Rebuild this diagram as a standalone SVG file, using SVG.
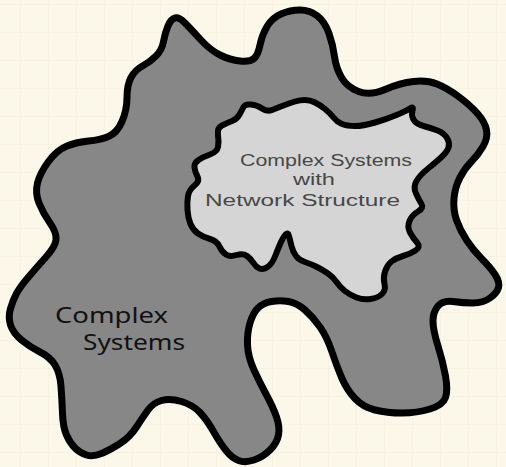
<svg xmlns="http://www.w3.org/2000/svg" width="506" height="467" viewBox="0 0 506 467">
<defs>
<pattern id="grid" patternUnits="userSpaceOnUse" x="20" y="4" width="28" height="28">
<rect width="28" height="28" fill="#fcf8e9"/>
<path d="M0,0 V28 M0,0 H28" stroke="#f2ecd9" stroke-width="1" fill="none"/>
</pattern>
</defs>
<style>
.blob{stroke:#000;stroke-linejoin:round}
.outer{fill:#878787;stroke-width:7}
.inner{fill:#d5d5d5;stroke-width:6}
.t{font-family:"Noto Sans","DejaVu Sans",sans-serif}
.ti{fill:#474747;font-size:16px;font-family:"Liberation Sans",Arial,sans-serif}
.to{fill:#111;font-size:22px}
</style>
<rect width="506" height="467" fill="url(#grid)"/>
<g id="connectors"/>
<g id="complex-systems">
<path class="blob outer" d="M67,146 Q77,142 88.5,141 Q100,140 108.5,136.5 Q117,133 122,121.5 Q127,110 127,97.5 Q127,85 131,77.5 Q135,70 142.5,66 Q150,62 156,56 Q162,50 163.5,41.5 Q165,33 168,26 Q171,19 175,18 Q179,17 184.5,22.5 Q190,28 200,39 Q210,50 220,55 Q230,60 240,61 Q250,62 254,58.5 Q258,55 260,45 Q262,35 267,26.5 Q272,18 281,14 Q290,10 300,10 Q310,10 317.5,16 Q325,22 329,33.5 Q333,45 334.5,56.5 Q336,68 341.5,77.5 Q347,87 358.5,91.5 Q370,96 385,89.5 Q400,83 413.5,81.5 Q427,80 437,84 Q447,88 458.5,96.5 Q470,105 477.5,113.5 Q485,122 486.5,130 Q488,138 483,146.5 Q478,155 471.5,161.5 Q465,168 460,177.5 Q455,187 454,198.5 Q453,210 456.5,220 Q460,230 466.5,240 Q473,250 481.5,258.5 Q490,267 495,274.5 Q500,282 498.5,287.5 Q497,293 490,298 Q483,303 473,303 Q463,303 453,301.5 Q443,300 438,306 Q433,312 433,321 Q433,330 438,346 Q443,362 445.5,376 Q448,390 445.5,397.5 Q443,405 430,409 Q417,413 402,413 Q387,413 375,410 Q363,407 355,398.5 Q347,390 342,378.5 Q337,367 332,352 Q327,337 320,327 Q313,317 305,310 Q297,303 288.5,301.5 Q280,300 271.5,301.5 Q263,303 258,308 Q253,313 250,323 Q247,333 247.5,345 Q248,357 254,370 Q260,383 266.5,395 Q273,407 276.5,417 Q280,427 278.5,435 Q277,443 270,450 Q263,457 254,460 Q245,463 238.5,460.5 Q232,458 226,450.5 Q220,443 213.5,431.5 Q207,420 200,412.5 Q193,405 181.5,401.5 Q170,398 161.5,400.5 Q153,403 148,410 Q143,417 136.5,427 Q130,437 120,443.5 Q110,450 101.5,453.5 Q93,457 86.5,455 Q80,453 75,448 Q70,443 66.5,435 Q63,427 62.5,413.5 Q62,400 61,386.5 Q60,373 55,365 Q50,357 40,352 Q30,347 21.5,340 Q13,333 10.5,325 Q8,317 10.5,308.5 Q13,300 16.5,293.5 Q20,287 28.5,277 Q37,267 46,257 Q55,247 56,240 Q57,233 50,223 Q43,213 39,203 Q35,193 37.5,183 Q40,173 48.5,161.5 Q57,150 67,146 Z"/>
<text class="t to" x="55" y="323" textLength="113" lengthAdjust="spacingAndGlyphs">Complex</text>
<text class="t to" x="83" y="350" textLength="102" lengthAdjust="spacingAndGlyphs">Systems</text>
</g>
<g id="network-structure">
<path class="blob inner" d="M251,104.5 Q257,105 262,108.5 Q267,112 272,110 Q277,108 283.5,105.5 Q290,103 295,101.5 Q300,100 305,100 Q310,100 315,102.5 Q320,105 325,109 Q330,113 333.5,117.5 Q337,122 342,124 Q347,126 355,126 Q363,126 375,122.5 Q387,119 396.5,115 Q406,111 410,108.5 Q414,106 412.5,110.5 Q411,115 413.5,119.5 Q416,124 423.5,126 Q431,128 437.5,130.5 Q444,133 447,138 Q450,143 448.5,147.5 Q447,152 441,157.5 Q435,163 427.5,169 Q420,175 416.5,181 Q413,187 416,193.5 Q419,200 421.5,204 Q424,208 418,211.5 Q412,215 409.5,221 Q407,227 410,232.5 Q413,238 417,242.5 Q421,247 415.5,250.5 Q410,254 403,256 Q396,258 391.5,261.5 Q387,265 385,271.5 Q383,278 384.5,284 Q386,290 382,294 Q378,298 370.5,299 Q363,300 356.5,297.5 Q350,295 345,291 Q340,287 336.5,282 Q333,277 328,273.5 Q323,270 317,267 Q311,264 305,262 Q299,260 296,256 Q293,252 291.5,246 Q290,240 289,236 Q288,232 285.5,234.5 Q283,237 280.5,243 Q278,249 275,256.5 Q272,264 267.5,267 Q263,270 259.5,268.5 Q256,267 253.5,263 Q251,259 247,256 Q243,253 236.5,255 Q230,257 226,254.5 Q222,252 219.5,246.5 Q217,241 210,239 Q203,237 198,233.5 Q193,230 190.5,224 Q188,218 187.5,210 Q187,202 188,196 Q189,190 194.5,185.5 Q200,181 197.5,176.5 Q195,172 194.5,167.5 Q194,163 198.5,160 Q203,157 210,154.5 Q217,152 218,147 Q219,142 218,135 Q217,128 222,125.5 Q227,123 232,121 Q237,119 239.5,114.5 Q242,110 243.5,107 Q245,104 251,104.5 Z"/>
<text class="t ti" x="240" y="166" textLength="172" lengthAdjust="spacingAndGlyphs">Complex Systems</text>
<text class="t ti" x="293" y="185" textLength="42" lengthAdjust="spacingAndGlyphs">with</text>
<text class="t ti" x="205" y="206" textLength="195" lengthAdjust="spacingAndGlyphs">Network Structure</text>
</g>
</svg>
